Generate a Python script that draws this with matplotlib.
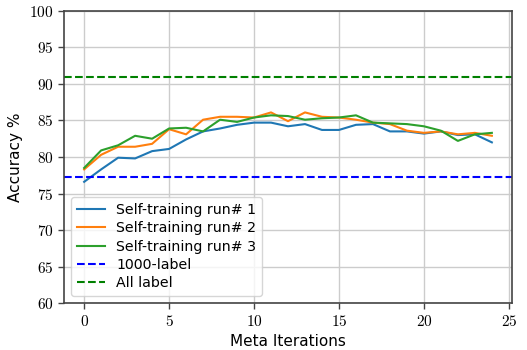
import matplotlib
matplotlib.use("Agg")
import matplotlib.pyplot as plt
from matplotlib.ticker import FuncFormatter, MultipleLocator

plt.rcParams["mathtext.fontset"] = "cm"

# Accuracy per meta iteration for three self-training runs
iterations = list(range(25))
run1 = [76.6, 78.3, 79.9, 79.8, 80.8, 81.1, 82.4, 83.5, 83.9, 84.4, 84.7, 84.7, 84.2,
        84.5, 83.7, 83.7, 84.4, 84.5, 83.5, 83.5, 83.2, 83.5, 83.0, 83.1, 82.0]
run2 = [78.3, 80.3, 81.4, 81.4, 81.8, 83.8, 83.1, 85.1, 85.5, 85.5, 85.4, 86.1, 84.9,
        86.1, 85.5, 85.4, 85.1, 84.7, 84.5, 83.6, 83.3, 83.5, 83.1, 83.3, 82.9]
run3 = [78.5, 80.9, 81.6, 82.9, 82.5, 83.9, 84.0, 83.5, 85.1, 84.8, 85.4, 85.7, 85.6,
        85.1, 85.3, 85.4, 85.7, 84.7, 84.6, 84.5, 84.2, 83.6, 82.2, 83.1, 83.3]
baseline_1000 = 77.2
baseline_all = 90.95

fig = plt.figure(figsize=(5.27, 3.5), dpi=100)
ax = fig.add_axes([0.121, 0.134, 0.851, 0.835])

ax.plot(iterations, run1, color="tab:blue", lw=1.5, label="Self-training run# 1")
ax.plot(iterations, run2, color="tab:orange", lw=1.5, label="Self-training run# 2")
ax.plot(iterations, run3, color="tab:green", lw=1.5, label="Self-training run# 3")
ax.axhline(baseline_1000, color="blue", ls="--", lw=1.5, label="1000-label")
ax.axhline(baseline_all, color="green", ls="--", lw=1.5, label="All label")

ax.set_ylim(60, 100)
ax.set_xlim(-1.2, 25.2)
ax.xaxis.set_major_locator(MultipleLocator(5))
ax.yaxis.set_major_locator(MultipleLocator(5))
fmt = FuncFormatter(lambda v, p: "$%d$" % v)
ax.xaxis.set_major_formatter(fmt)
ax.yaxis.set_major_formatter(fmt)
ax.tick_params(labelsize=11, color="#444444", length=4, width=1)
ax.grid(True, color="#cccccc", lw=1)
ax.set_axisbelow(True)
for s in ax.spines.values():
    s.set_color("#444444")
    s.set_linewidth(1.2)

ax.set_xlabel("Meta Iterations", fontsize=11)
ax.set_ylabel("Accuracy %", fontsize=11)
ax.legend(loc="lower left", fontsize=10.2, labelspacing=0.31, borderaxespad=0.5)

fig.savefig("out.png", dpi=100)
